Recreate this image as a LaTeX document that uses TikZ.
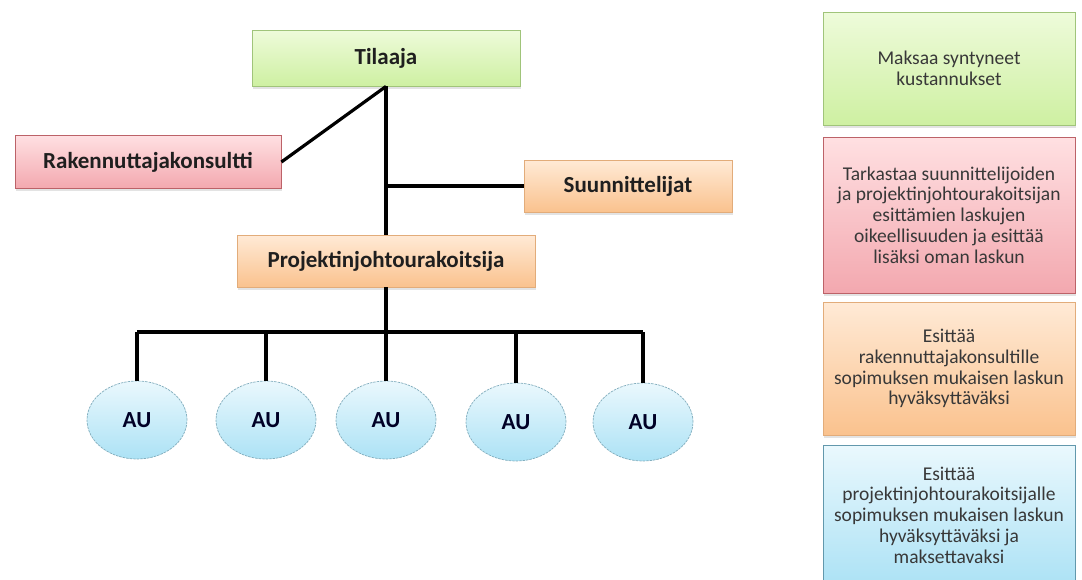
\documentclass[tikz,border=0pt]{standalone}
\usepackage{fontspec}
\setmainfont{Carlito}
\usepackage{tikz}
\usetikzlibrary{shapes.geometric}
\usetikzlibrary{shadows}

\definecolor{greentop}{RGB}{238,251,218}
\definecolor{greenbot}{RGB}{206,240,162}
\definecolor{greenline}{RGB}{160,196,122}
\definecolor{redtop}{RGB}{255,224,226}
\definecolor{redbot}{RGB}{243,168,175}
\definecolor{redline}{RGB}{188,98,104}
\definecolor{orangetop}{RGB}{255,234,214}
\definecolor{orangebot}{RGB}{250,194,142}
\definecolor{orangeline}{RGB}{226,172,122}
\definecolor{bluetop}{RGB}{234,248,253}
\definecolor{bluebot}{RGB}{172,226,245}
\definecolor{blueline}{RGB}{98,152,172}

\tikzset{
    greenbox/.style={top color=greentop, bottom color=greenbot, draw=greenline},
    redbox/.style={top color=redtop, bottom color=redbot, draw=redline},
    orangebox/.style={top color=orangetop, bottom color=orangebot, draw=orangeline},
    bluebox/.style={top color=bluetop, bottom color=bluebot, draw=blueline},
    rolebox/.style={inner sep=0pt, line width=0.8pt, text=black!88,
        font=\fontsize{23}{27}\selectfont\bfseries,
        drop shadow={opacity=0.22, shadow xshift=1pt, shadow yshift=-2.5pt}},
    notebox/.style={inner sep=0pt, line width=0.8pt, text=black!78, align=center,
        minimum width=252pt, font=\fontsize{19.5}{20.8}\selectfont,
        drop shadow={opacity=0.22, shadow xshift=1pt, shadow yshift=-2.5pt}},
    aunode/.style={ellipse, inner sep=0pt, minimum width=100pt, minimum height=78pt,
        top color=bluetop, bottom color=bluebot, draw=blueline!80,
        dash pattern=on 2.5pt off 1pt, line width=0.7pt, text=black!85!blue,
        font=\fontsize{23}{27}\selectfont\bfseries},
    link/.style={line width=3.2pt, black}
}

\begin{document}
\begin{tikzpicture}[x=1pt,y=-1pt]
            \useasboundingbox (0,0) rectangle (1082,579);
            \clip (0,0) rectangle (1082,579);

            % organisation
            \node[rolebox, greenbox, minimum width=268pt, minimum height=56pt] (tilaaja) at (386,58) {Tilaaja};
            \node[rolebox, redbox, minimum width=266pt, minimum height=53pt] (rakkons) at (148,162) {Rakennuttajakonsultti};
            \node[rolebox, orangebox, minimum width=208pt, minimum height=52pt] (suunn) at (628,186) {Suunnittelijat};
            \node[rolebox, orangebox, minimum width=298pt, minimum height=52pt] (pjura) at (386,261) {Projektinjohtourakoitsija};

            % sub-contractors
            \node[aunode] (au1) at (137,420) {AU};
            \node[aunode] (au2) at (266,420) {AU};
            \node[aunode] (au3) at (386,420) {AU};
            \node[aunode] (au4) at (516,422) {AU};
            \node[aunode] (au5) at (643,422) {AU};
            \coordinate (bus) at (386,332);

            % lines
            \draw[link] (tilaaja.south) -- (rakkons.east);
            \draw[link] (tilaaja.south) -- (pjura.north);
            \draw[link] (suunn.west) -- (suunn.west -| tilaaja.south);
            \draw[link] (pjura.south) -- (bus);
            \draw[link] (au1.north |- bus) -- (au5.north |- bus);
            \draw[link] (au1.north) -- (au1.north |- bus);
            \draw[link] (au2.north) -- (au2.north |- bus);
            \draw[link] (au3.north) -- (au3.north |- bus);
            \draw[link] (au4.north) -- (au4.north |- bus);
            \draw[link] (au5.north) -- (au5.north |- bus);

            % tasks
            \node[notebox, greenbox, minimum height=113pt] (maksaa) at (949,68.5)
                {Maksaa syntyneet\\kustannukset};
            \node[notebox, redbox, minimum height=156pt] (tarkastaa) at (949,215)
                {Tarkastaa suunnittelijoiden\\ja projektinjohtourakoitsijan\\esittämien laskujen\\oikeellisuuden ja esittää\\lisäksi oman laskun};
            \node[notebox, orangebox, minimum height=133pt] (esittaa) at (949,368.5)
                {Esittää\\rakennuttajakonsultille\\sopimuksen mukaisen laskun\\hyväksyttäväksi};
            \node[notebox, bluebox, minimum height=140pt] (esittaaau) at (949,515)
                {Esittää\\projektinjohtourakoitsijalle\\sopimuksen mukaisen laskun\\hyväksyttäväksi ja\\maksettavaksi};
\end{tikzpicture}
\end{document}
